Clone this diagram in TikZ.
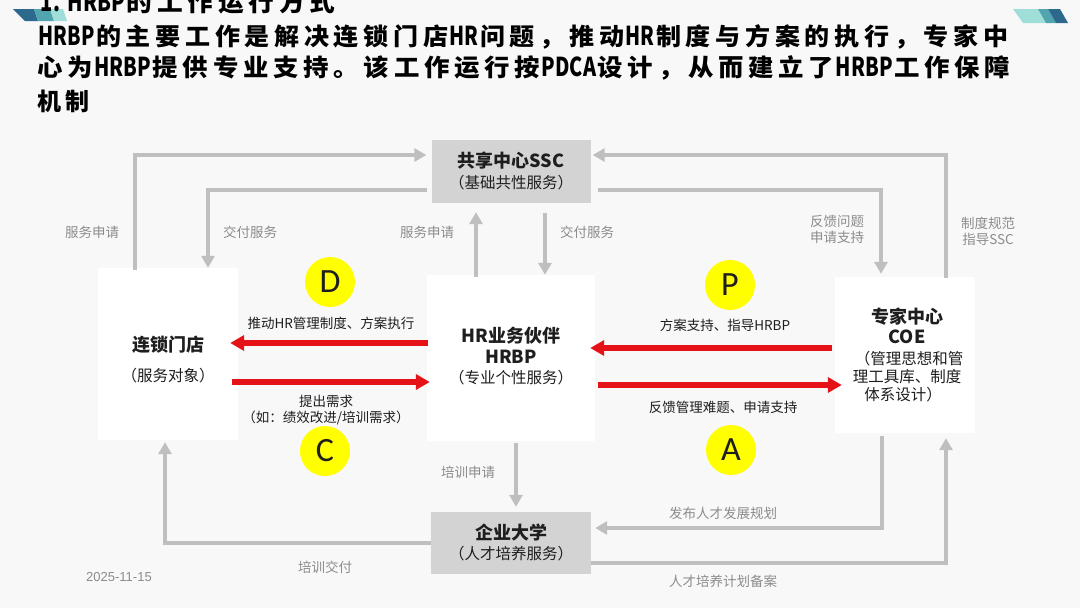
\documentclass[tikz,border=0pt]{standalone}
\usepackage{fontspec}
\usepackage{graphicx}
\setmainfont{Noto Sans CJK SC}
\newfontfamily\digitfont{Liberation Sans}
\newfontfamily\letterfont{Carlito}
\usetikzlibrary{arrows.meta,calc}

\makeatletter
\count@="3000
\loop \XeTeXcharclass\count@=5 \ifnum\count@<"303F \advance\count@\@ne \repeat
\count@="4E00
\loop \XeTeXcharclass\count@=5 \ifnum\count@<"9FFF \advance\count@\@ne \repeat
\count@="FF01
\loop \XeTeXcharclass\count@=5 \ifnum\count@<"FF5E \advance\count@\@ne \repeat
\makeatother
\XeTeXinterchartoks 5 5 = {\kern4.5pt}

\newcommand\ttl{\fontsize{24}{24}\selectfont\bfseries\XeTeXinterchartokenstate=1\relax}
\newcommand\lat[1]{\kern1.5pt\scalebox{0.72}[1]{\fontsize{26}{26}\selectfont\bfseries #1}\kern1.5pt}

\definecolor{bgc}{RGB}{248,248,248}
\definecolor{garr}{RGB}{191,191,191}
\definecolor{gboxc}{RGB}{211,211,211}
\definecolor{redc}{RGB}{229,18,24}
\definecolor{yel}{RGB}{255,255,0}
\definecolor{lblg}{RGB}{140,140,140}
\definecolor{txt}{RGB}{30,30,30}
\definecolor{decodark}{RGB}{45,105,140}
\definecolor{decomid}{RGB}{80,165,175}
\definecolor{decolight}{RGB}{160,222,218}

\tikzset{
  garrow/.style={draw=garr, line width=4.5pt, -{Triangle[width=13pt,length=12pt]}},
  rarrow/.style={draw=redc, line width=5.5pt, -{Triangle[width=15pt,length=14pt]}},
  wbox/.style={fill=white, draw=none, inner sep=0},
  gbox/.style={fill=gboxc, draw=none, inner sep=0},
  boxtitle/.style={inner sep=0, text=txt, font=\fontsize{18}{21}\selectfont\bfseries},
  boxsub/.style={inner sep=0, text=txt, font=\fontsize{15.5}{18}\selectfont},
  glabel/.style={inner sep=0, align=center, text=lblg, font=\fontsize{13.5}{16}\selectfont},
  blabel/.style={inner sep=0, align=center, text=txt, font=\fontsize{13.5}{16}\selectfont},
  pdca/.style={circle, fill=yel, minimum size=50pt, inner sep=0, text=txt, font=\letterfont\fontsize{34}{34}\selectfont},
  ttlnode/.style={anchor=base west, inner sep=0, text=black}
}

\begin{document}
\begin{tikzpicture}[x=1pt,y=-1pt]
\useasboundingbox (0,0) rectangle (1080,608);
\clip (0,0) rectangle (1080,608);
\fill[bgc] (0,0) rectangle (1080,608);

% corner decorations
\fill[decodark]  (13,9) -- (34,9) -- (38,21) -- (25,21) -- cycle;
\fill[decomid]   (34,9) -- (50,9) -- (54,21) -- (38,21) -- cycle;
\fill[decolight] (50,9) -- (63,9) -- (67,21) -- (54,21) -- cycle;
\fill[decolight] (1013,9) -- (1038,9) -- (1046,23) -- (1023,23) -- cycle;
\fill[decomid]   (1038,9) -- (1048,9) -- (1056,23) -- (1046,23) -- cycle;
\fill[decodark]  (1048,9) -- (1060,9) -- (1068,23) -- (1056,23) -- cycle;

% heading text
\node[ttlnode] (t0) at (39,11.5) {\resizebox{296pt}{\height}{\ttl\lat{1.}\kern4pt\lat{HRBP}的工作运行方式}};
\node[ttlnode] (t1) at (37,45.5) {\resizebox{971pt}{\height}{\ttl\lat{HRBP}的主要工作是解决连锁门店\lat{HR}问题，推动\lat{HR}制度与方案的执行，专家中}};
\node[ttlnode] (t2) at (37,76.5) {\resizebox{973pt}{\height}{\ttl 心为\lat{HRBP}提供专业支持。该工作运行按\lat{PDCA}设计，从而建立了\lat{HRBP}工作保障}};
\node[ttlnode] (t3) at (37,110) {\ttl 机制};

% boxes
\node[wbox, minimum width=140pt, minimum height=172pt] (store) at (168,354) {};
\node[wbox, minimum width=168pt, minimum height=166pt] (hrbp) at (511,358) {};
\node[wbox, minimum width=140pt, minimum height=156pt] (coe) at (905,355) {};
\node[gbox, minimum width=159pt, minimum height=63pt] (ssc) at (511,171.5) {};
\node[gbox, minimum width=160pt, minimum height=62pt] (univ) at (511,543) {};

% box texts
\node[boxtitle] (storeT) at (168,345) {连锁门店};
\node[boxsub] (storeS) at (168,376) {（服务对象）};
\node[boxtitle] (hrbpT) at (511,336) {HR业务伙伴};
\node[boxtitle] (hrbpT2) at (511,357) {HRBP};
\node[boxsub] (hrbpS) at (511,378) {（专业个性服务）};
\node[boxtitle] (sscT) at (511,161) {共享中心SSC};
\node[boxsub] (sscS) at (511,183) {（基础共性服务）};
\node[boxtitle] (univT) at (511,533) {企业大学};
\node[boxsub] (univS) at (511,554) {（人才培养服务）};
\node[boxtitle] (coeT) at (907,317) {专家中心};
\node[boxtitle] (coeT2) at (907,337) {COE};
\node[boxsub] (coeS1) at (909,359) {（管理思想和管};
\node[boxsub] (coeS2) at (907,377) {理工具库、制度};
\node[boxsub] (coeS3) at (903,395) {体系设计）};

% grey connectors
\draw[garrow] ($(store.north)+(-33,2)$) |- ($(ssc.west)+(-5,-16.5)$);
\draw[garrow] ($(ssc.west)+(-4,18.5)$) -| ($(store.north)+(40,0)$);
\draw[garrow] ($(hrbp.north)+(-35,2)$) -- ($(ssc.south)+(-35,9)$);
\draw[garrow] ($(ssc.south)+(34,10)$) -- ($(hrbp.north)+(34,0)$);
\draw[garrow] ($(ssc.east)+(7,18.5)$) -| ($(coe.north)+(-24,-3)$);
\draw[garrow] ($(coe.north)+(41,1)$) |- ($(ssc.east)+(2,-16.5)$);
\draw[garrow] ($(hrbp.south)+(5,2)$) -- ($(univ.north)+(5,-5)$);
\draw[garrow] (univ.west) -| ($(store.south)+(-3,2)$);
\draw[garrow] ($(coe.south)+(-23,3)$) |- ($(univ.east)+(4,-15)$);
\draw[garrow] ($(univ.east)+(0,20)$) -| ($(coe.south)+(41,5)$);

% red connectors
\draw[rarrow] ($(hrbp.west)+(1,-15)$) -- ($(store.east)+(-8,-11)$);
\draw[rarrow] ($(store.east)+(-6,28)$) -- ($(hrbp.west)+(3,24)$);
\draw[rarrow] ($(coe.west)+(-3,-7)$) -- ($(hrbp.east)+(-5,-10)$);
\draw[rarrow] ($(hrbp.east)+(3,27)$) -- ($(coe.west)+(7,30)$);

% PDCA circles
\node[pdca] (D) at (330,282) {D};
\node[pdca] (P) at (730,285) {P};
\node[pdca] (C) at (325,451) {C};
\node[pdca] (A) at (731,450) {A};

% grey labels
\node[glabel] (l1) at (92,232) {服务申请};
\node[glabel] (l2) at (250,232) {交付服务};
\node[glabel] (l3) at (427,232) {服务申请};
\node[glabel] (l4) at (587,232) {交付服务};
\node[glabel] (l5) at (837,229) {反馈问题\\申请支持};
\node[glabel] (l6) at (988,231.5) {制度规范\\指导SSC};
\node[glabel] (l7) at (468,472) {培训申请};
\node[glabel] (l8) at (325,567) {培训交付};
\node[glabel] (l9) at (723,513) {发布人才发展规划};
\node[glabel] (l10) at (723,581) {人才培养计划备案};
\node[inner sep=0, text=lblg, font=\digitfont\fontsize{13}{15}\selectfont] (date) at (119,577) {2025-11-15};

% dark labels
\node[blabel] (m1) at (331,323) {推动HR管理制度、方案执行};
\node[blabel] (m2) at (326,410) {提出需求\\（如：绩效改进/培训需求）};
\node[blabel] (m3) at (725,325) {方案支持、指导HRBP};
\node[blabel] (m4) at (723,407) {反馈管理难题、申请支持};
\end{tikzpicture}
\end{document}
